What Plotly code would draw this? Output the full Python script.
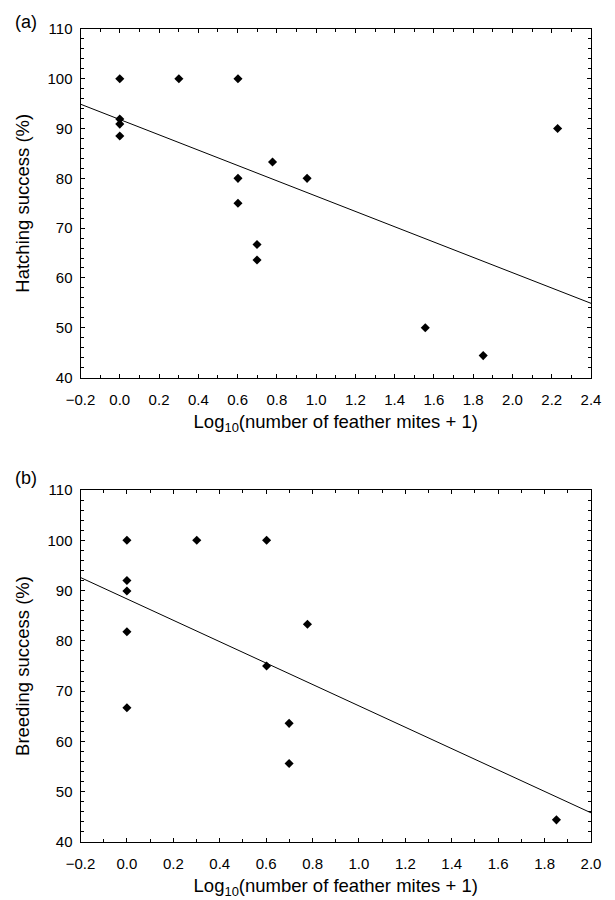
import plotly.graph_objects as go

# ---- data ----
top_x = [0.0, 0.0, 0.0, 0.0, 0.301, 0.602, 0.602, 0.602, 0.699, 0.699, 0.778, 0.954, 1.556, 1.851, 2.230]
top_y = [100, 91.9, 90.9, 88.5, 100, 100, 80, 75, 66.7, 63.6, 83.3, 80, 50, 44.4, 90]
top_line_x = [-0.2, 2.4]
top_line_y = [94.9, 54.9]

bot_x = [0.0, 0.0, 0.0, 0.0, 0.0, 0.301, 0.602, 0.602, 0.699, 0.699, 0.778, 1.851]
bot_y = [100, 92, 89.9, 81.8, 66.7, 100, 100, 75, 63.6, 55.6, 83.3, 44.4]
bot_line_x = [-0.2, 2.0]
bot_line_y = [92.6, 45.8]

y_title_top = "Hatching success (%)"
y_title_bot = "Breeding success (%)"
x_title = "Log<sub>10</sub>(number of feather mites + 1)"

FONT = "Liberation Sans, Arial, Helvetica, sans-serif"
OFF = 8                      # page body margin of the html page
W, H = 615 - OFF, 900 - OFF
TICK_SIZE = 15
TITLE_SIZE = 18.5

fig = go.Figure()
marker = dict(symbol="diamond", size=7, color="black", line=dict(width=0))

fig.add_trace(go.Scatter(x=top_x, y=top_y, mode="markers", marker=marker,
                         xaxis="x", yaxis="y", showlegend=False))
fig.add_trace(go.Scatter(x=top_line_x, y=top_line_y, mode="lines",
                         line=dict(color="black", width=1),
                         xaxis="x", yaxis="y", showlegend=False))
fig.add_trace(go.Scatter(x=bot_x, y=bot_y, mode="markers", marker=marker,
                         xaxis="x2", yaxis="y2", showlegend=False))
fig.add_trace(go.Scatter(x=bot_line_x, y=bot_line_y, mode="lines",
                         line=dict(color="black", width=1),
                         xaxis="x2", yaxis="y2", showlegend=False))

def px_x(a, b):
    return [(a - OFF) / W, (b - OFF) / W]

def px_y(top, bottom):
    return [1 - (bottom - OFF) / H, 1 - (top - OFF) / H]

common = dict(showline=True, linecolor="black", linewidth=1, mirror="ticks",
              ticks="inside", ticklen=4, tickcolor="black", tickwidth=1,
              showgrid=False, zeroline=False, automargin=False,
              tickfont=dict(family=FONT, size=TICK_SIZE, color="black"))

xcommon = dict(ticklabelstandoff=8, tickformat=".1f", dtick=0.2, tick0=-0.2,
               minor=dict(dtick=0.1, ticks="inside", ticklen=3, tickcolor="black"),
               title=dict(text=x_title, font=dict(family=FONT, size=TITLE_SIZE), standoff=8))
ycommon = dict(ticklabelstandoff=4, range=[40, 110], dtick=10,
               minor=dict(dtick=2, ticks="inside", ticklen=3, tickcolor="black"))

xdom = px_x(80.5, 591)

fig.update_layout(
    width=W, height=H,
    margin=dict(l=0, r=0, t=0, b=0),
    paper_bgcolor="white", plot_bgcolor="white",
    font=dict(family=FONT, color="black"),
    xaxis=dict(domain=xdom, anchor="y", range=[-0.2, 2.4], **xcommon, **common),
    yaxis=dict(domain=px_y(29, 377.5), anchor="x",
               title=dict(text=y_title_top, font=dict(family=FONT, size=TITLE_SIZE), standoff=12),
               **ycommon, **common),
    xaxis2=dict(domain=xdom, anchor="y2", range=[-0.2, 2.0], **xcommon, **common),
    yaxis2=dict(domain=px_y(490, 842), anchor="x2",
                title=dict(text=y_title_bot, font=dict(family=FONT, size=TITLE_SIZE), standoff=12),
                **ycommon, **common),
    annotations=[
        dict(text="(a)", x=(13 - OFF) / W, y=1 - (22.5 - OFF) / H, xref="paper", yref="paper",
             xanchor="left", yanchor="middle", showarrow=False,
             font=dict(family=FONT, size=18, color="black")),
        dict(text="(b)", x=(13 - OFF) / W, y=1 - (478 - OFF) / H, xref="paper", yref="paper",
             xanchor="left", yanchor="middle", showarrow=False,
             font=dict(family=FONT, size=18, color="black")),
    ],
)

fig.write_html("out.html")
